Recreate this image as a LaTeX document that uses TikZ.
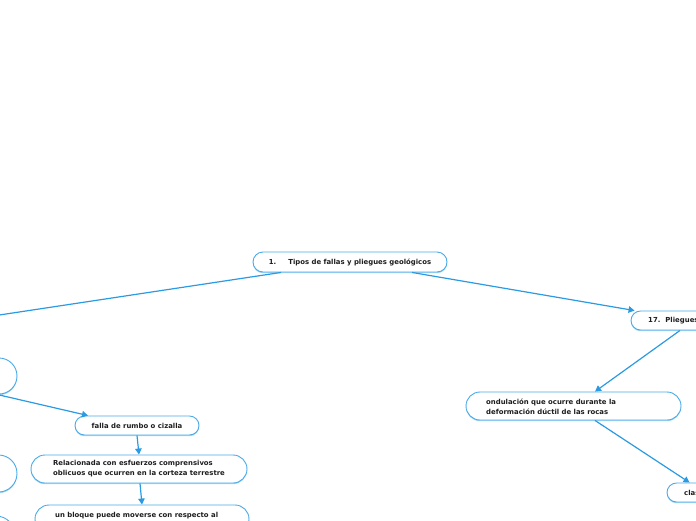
\documentclass[tikz,border=0pt]{standalone}
\usepackage{fontspec}
\setmainfont{DejaVu Sans}
\usetikzlibrary{arrows.meta,shadows}
\definecolor{edge}{HTML}{2A9BE2}
\definecolor{bord}{HTML}{4AAAE8}
\definecolor{shad}{HTML}{A6D6F5}
\definecolor{ink}{HTML}{1E1E1E}
\tikzset{
 pill/.style={draw=bord, line width=0.9pt, fill=white, drop shadow={shadow xshift=0pt, shadow yshift=-1.2pt, fill=shad, opacity=1}, inner sep=0pt},
 lbl/.style={font=\fontsize{6.9}{10}\selectfont\bfseries, text=ink, inner sep=0pt, align=left},
 conn/.style={draw=edge, line width=1.2pt, -{Triangle[length=6pt,width=6.5pt]}},
 plain/.style={draw=edge, line width=1.2pt},
}
\begin{document}
\begin{tikzpicture}[x=1pt,y=-1pt]
\useasboundingbox (0,0) rectangle (696,520);
\clip (0,0) rectangle (696,520);
% nodes
\node[pill, lbl, minimum width=194pt, minimum height=20pt, rounded corners=10pt] (root) at (350,262) {1.\hspace{12pt}Tipos de fallas y pliegues geológicos};
\node[pill, minimum width=140pt, minimum height=19pt, rounded corners=9.5pt] (pl) at (701,320.5) {};
\node[lbl, anchor=west] (plt) at (648,320.5) {17.\hspace{5pt}Pliegues};
\node[pill, minimum width=215pt, minimum height=28pt, rounded corners=14pt] (ond) at (573.5,406) {};
\node[lbl, anchor=west] (ondt) at (486,406.5) {ondulación que ocurre durante la\\deformación dúctil de las rocas};
\node[pill, minimum width=120pt, minimum height=19pt, rounded corners=9.5pt] (cl) at (727,492.5) {};
\node[lbl, anchor=west] (clt) at (684,493) {clasificación};
\node[pill, minimum width=217pt, minimum height=36pt, rounded corners=18pt] (lf1) at (-91.5,376) {};
\node[pill, minimum width=217pt, minimum height=37pt, rounded corners=18.5pt] (lf2) at (-91.5,473.5) {};
\node[pill, minimum width=220pt, minimum height=38pt, rounded corners=19pt] (lf3) at (-95,535) {};
\node[pill, lbl, minimum width=124pt, minimum height=19pt, rounded corners=9.5pt] (fa) at (137,425.5) {falla de rumbo o cizalla};
\node[pill, lbl, minimum width=216pt, minimum height=28pt, rounded corners=14pt] (rel) at (139,469) {Relacionada con esfuerzos comprensivos\\oblicuos que ocurren en la corteza terrestre};
\node[pill, minimum width=214pt, minimum height=28pt, rounded corners=14pt] (ub) at (142,519) {};
\node[lbl, anchor=west] (ubt) at (55,515.5) {un bloque puede moverse con respecto al};
\coordinate (lt) at (-100,330);
% connectors
\draw[plain] ([xshift=-69pt]root.south) -- (lt);
\draw[conn] ([xshift=62pt]root.south) -- ([xshift=4pt]pl.north west);
\draw[conn] ([xshift=-21pt]pl.south) -- ([xshift=21.5pt]ond.north);
\draw[conn] ([xshift=21.5pt]ond.south) -- ([xshift=23pt]cl.north west);
\draw[conn] ([xshift=88.5pt]lf1.south) -- ([xshift=-49pt]fa.north);
\draw[conn] (fa.south) -- (rel.north);
\draw[conn] ([xshift=1pt]rel.south) -- (ub.north);
\end{tikzpicture}
\end{document}
